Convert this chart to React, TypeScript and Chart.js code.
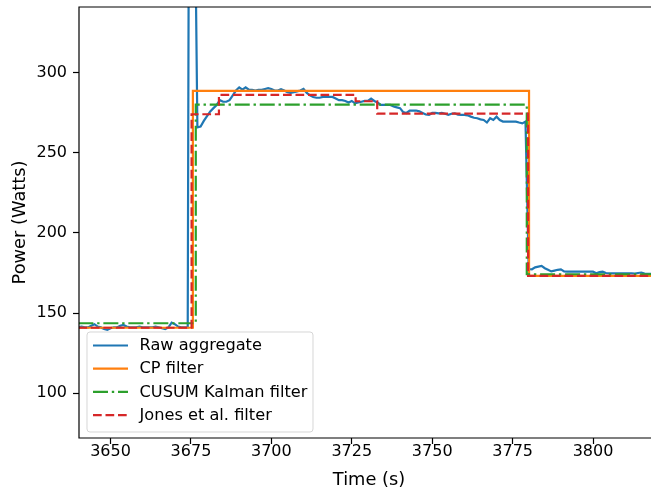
import React, { useEffect, useRef } from "react";
import { Chart, registerables } from "chart.js";

Chart.register(...registerables);

// Raw aggregate power, sampled once per second
const rawTime: number[] = [
  3640, 3641, 3642, 3643, 3644, 3645, 3646, 3647, 3648, 3649,
  3650, 3651, 3652, 3653, 3654, 3655, 3656, 3657, 3658, 3659,
  3660, 3661, 3662, 3663, 3664, 3665, 3666, 3667, 3668, 3669,
  3670, 3671, 3672, 3673, 3674, 3675, 3676, 3677, 3678, 3679,
  3680, 3681, 3682, 3683, 3684, 3685, 3686, 3687, 3688, 3689,
  3690, 3691, 3692, 3693, 3694, 3695, 3696, 3697, 3698, 3699,
  3700, 3701, 3702, 3703, 3704, 3705, 3706, 3707, 3708, 3709,
  3710, 3711, 3712, 3713, 3714, 3715, 3716, 3717, 3718, 3719,
  3720, 3721, 3722, 3723, 3724, 3725, 3726, 3727, 3728, 3729,
  3730, 3731, 3732, 3733, 3734, 3735, 3736, 3737, 3738, 3739,
  3740, 3741, 3742, 3743, 3744, 3745, 3746, 3747, 3748, 3749,
  3750, 3751, 3752, 3753, 3754, 3755, 3756, 3757, 3758, 3759,
  3760, 3761, 3762, 3763, 3764, 3765, 3766, 3767, 3768, 3769,
  3770, 3771, 3772, 3773, 3774, 3775, 3776, 3777, 3778, 3779,
  3780, 3781, 3782, 3783, 3784, 3785, 3786, 3787, 3788, 3789,
  3790, 3791, 3792, 3793, 3794, 3795, 3796, 3797, 3798, 3799,
  3800, 3801, 3802, 3803, 3804, 3805, 3806, 3807, 3808, 3809,
  3810, 3811, 3812, 3813, 3814, 3815, 3816, 3817, 3818, 3819,
];

const rawPower: number[] = [
  141, 141.5, 141, 141, 142, 143, 141.5, 141, 140, 139.5,
  140.5, 141, 141, 142, 142.5, 141.5, 141, 141, 141, 141.5,
  141, 141, 141, 141, 141.5, 141, 140.5, 140, 141, 144,
  143, 141.5, 141, 141, 141, 900, 450, 266, 266.5, 270,
  273, 276, 278, 280, 283, 282, 282, 283, 286, 289,
  291, 289.5, 291, 289.5, 289.5, 289, 289.5, 289.5, 290, 290.5,
  290, 289, 289, 289.8, 289, 288, 287.5, 288, 288.5, 289,
  290, 287.5, 286, 285, 284.5, 284.5, 285, 285, 285, 285,
  284, 283, 283, 282.5, 281.5, 282.5, 281, 281.5, 282, 282.5,
  282.5, 284, 282.5, 281.5, 280, 280, 280, 280, 279, 278.5,
  278, 275.5, 275, 276.5, 276.5, 276.5, 276, 275, 274, 273.8,
  275, 275, 274.8, 275, 274.5, 273.8, 274.5, 274.8, 274, 273.8,
  273.8, 273.5, 272.7, 272, 271.7, 271, 270.6, 269, 271.7, 270.6,
  272.7, 270.6, 269.6, 269.6, 269.6, 269.6, 269.6, 269, 268.5, 269.6,
  177.5, 177.3, 178.5, 179, 179.4, 178, 177, 176, 176.5, 177,
  177.3, 176, 175.8, 175.8, 175.8, 175.8, 175.8, 175.8, 175.8, 175.8,
  175.8, 174.8, 175.5, 175.8, 175, 174.8, 174.8, 174.8, 174.8, 174.8,
  174.8, 174.8, 174.8, 174.6, 175, 175.3, 174.6, 174.5, 174.5, 174.5,
];

// Piecewise-constant filter outputs: each level holds from its start time
const cpTime: number[] = [3640, 3675.6, 3780.1, 3821];
const cpPower: number[] = [140.8, 288.8, 173.2, 173.2];

const cusumTime: number[] = [3640, 3676.5, 3779.4, 3821];
const cusumPower: number[] = [143.6, 280.2, 174.2, 174.2];

const jonesTime: number[] = [3640, 3675.2, 3683.7, 3726.2, 3732.9, 3779.8, 3821];
const jonesPower: number[] = [140.8, 274.2, 286.3, 282.3, 274.6, 173.2, 173.2];

const xTicks: number[] = [3650, 3675, 3700, 3725, 3750, 3775, 3800];
const yTicks: number[] = [100, 150, 200, 250, 300];

const X_MIN = 3640.2;
const X_MAX = 3820.5;
const Y_MIN = 71.9;
const Y_MAX = 341.2;

const FONT = "'DejaVu Sans', sans-serif";
const TICK_SIZE = 16;
const TITLE_SIZE = 17.8;
const LEGEND_SIZE = 16.2;
const LINE_W = 2.2;

const toPoints = (xs: number[], ys: number[]) => xs.map((x, i) => ({ x, y: ys[i] }));

// Axis frame (left, top, bottom) drawn above the data lines
const framePlugin = {
  id: "frame",
  afterDatasetsDraw(chart: any) {
    const { ctx, chartArea: a } = chart;
    ctx.save();
    ctx.strokeStyle = "#000";
    ctx.lineWidth = 1.2;
    ctx.lineCap = "square";
    ctx.beginPath();
    ctx.moveTo(a.right, a.top);
    ctx.lineTo(a.left, a.top);
    ctx.lineTo(a.left, a.bottom);
    ctx.lineTo(a.right, a.bottom);
    ctx.stroke();
    ctx.restore();
  },
};

// Framed legend in the lower-left corner of the plot area
const legendPlugin = {
  id: "boxLegend",
  afterDraw(chart: any) {
    const { ctx, chartArea: a } = chart;
    const datasets = chart.data.datasets;
    const x0 = a.left + 8;
    const y1 = a.bottom - 6;
    const rowH = 23.2;
    const h = 100;
    const y0 = y1 - h;
    const w = 226;
    const r = 3;
    ctx.save();
    ctx.beginPath();
    ctx.moveTo(x0 + r, y0);
    ctx.lineTo(x0 + w - r, y0);
    ctx.arcTo(x0 + w, y0, x0 + w, y0 + r, r);
    ctx.lineTo(x0 + w, y0 + h - r);
    ctx.arcTo(x0 + w, y0 + h, x0 + w - r, y0 + h, r);
    ctx.lineTo(x0 + r, y0 + h);
    ctx.arcTo(x0, y0 + h, x0, y0 + h - r, r);
    ctx.lineTo(x0, y0 + r);
    ctx.arcTo(x0, y0, x0 + r, y0, r);
    ctx.closePath();
    ctx.fillStyle = "rgba(255,255,255,0.8)";
    ctx.fill();
    ctx.strokeStyle = "rgba(204,204,204,0.8)";
    ctx.lineWidth = 1;
    ctx.stroke();

    ctx.font = `${LEGEND_SIZE}px ${FONT}`;
    ctx.textBaseline = "middle";
    ctx.textAlign = "left";
    datasets.forEach((ds: any, i: number) => {
      const cy = y0 + 13.5 + i * rowH;
      ctx.beginPath();
      ctx.setLineDash(ds.borderDash || []);
      ctx.strokeStyle = ds.borderColor;
      ctx.lineWidth = ds.borderWidth;
      ctx.moveTo(x0 + 6, cy);
      ctx.lineTo(x0 + 41, cy);
      ctx.stroke();
      ctx.setLineDash([]);
      ctx.fillStyle = "#000";
      ctx.fillText(ds.label, x0 + 52.5, cy + 0.5);
    });
    ctx.restore();
  },
};

export default function App() {
  const canvasRef = useRef<HTMLCanvasElement | null>(null);

  useEffect(() => {
    const canvas = canvasRef.current;
    if (!canvas) return;
    const tickFont = { family: FONT, size: TICK_SIZE };
    const titleFont = { family: FONT, size: TITLE_SIZE };
    const chart = new Chart(canvas, {
      type: "line",
      data: {
        datasets: [
          {
            label: "Raw aggregate",
            data: toPoints(rawTime, rawPower),
            borderColor: "#1f77b4",
            borderWidth: LINE_W,
            pointRadius: 0,
            tension: 0,
            order: 3,
          },
          {
            label: "CP filter",
            data: toPoints(cpTime, cpPower),
            borderColor: "#ff7f0e",
            borderWidth: LINE_W,
            pointRadius: 0,
            stepped: "before",
            order: 2,
          },
          {
            label: "CUSUM Kalman filter",
            data: toPoints(cusumTime, cusumPower),
            borderColor: "#2ca02c",
            borderWidth: LINE_W,
            borderDash: [15, 3.8, 2.4, 3.8],
            pointRadius: 0,
            stepped: "before",
            order: 1,
          },
          {
            label: "Jones et al. filter",
            data: toPoints(jonesTime, jonesPower),
            borderColor: "#d62728",
            borderWidth: LINE_W,
            borderDash: [8.7, 3.8],
            pointRadius: 0,
            stepped: "before",
            order: 0,
          },
        ],
      },
      options: {
        animation: false,
        responsive: false,
        maintainAspectRatio: false,
        events: [],
        layout: { padding: { top: 7, left: 0, right: 0, bottom: 0 } },
        plugins: {
          legend: { display: false },
          tooltip: { enabled: false },
        },
        scales: {
          x: {
            type: "linear",
            min: X_MIN,
            max: X_MAX,
            afterFit: (s: any) => {
              s.height = 53;
              s.paddingLeft = 0;
              s.paddingRight = 0;
            },
            afterBuildTicks: (s: any) => {
              s.ticks = xTicks.map((v) => ({ value: v }));
            },
            ticks: {
              color: "#000",
              font: tickFont,
              padding: -2,
              maxRotation: 0,
              autoSkip: false,
              callback: (v: any) => String(v),
            },
            grid: {
              display: true,
              drawOnChartArea: false,
              drawTicks: true,
              tickLength: 6,
              tickWidth: 1.2,
              tickColor: "#000",
            },
            border: { display: false },
            title: {
              display: true,
              text: "Time (s)",
              color: "#000",
              font: titleFont,
              padding: { top: 0, bottom: 0 },
            },
          },
          y: {
            type: "linear",
            min: Y_MIN,
            max: Y_MAX,
            afterFit: (s: any) => {
              s.width = 79;
              s.paddingTop = 0;
              s.paddingBottom = 0;
            },
            afterBuildTicks: (s: any) => {
              s.ticks = yTicks.map((v) => ({ value: v }));
            },
            ticks: {
              color: "#000",
              font: tickFont,
              padding: 6,
              autoSkip: false,
              callback: (v: any) => String(v),
            },
            grid: {
              display: true,
              drawOnChartArea: false,
              drawTicks: true,
              tickLength: 6,
              tickWidth: 1.2,
              tickColor: "#000",
            },
            border: { display: false },
            title: {
              display: true,
              text: "Power (Watts)",
              color: "#000",
              font: titleFont,
              padding: { top: 9.3, bottom: 0 },
            },
          },
        },
      },
      plugins: [framePlugin, legendPlugin],
    });
    return () => chart.destroy();
  }, []);

  return (
    <div
      style={{
        position: "fixed",
        left: 0,
        top: 0,
        width: 651,
        height: 491,
        overflow: "hidden",
        background: "#fff",
      }}
    >
      <canvas ref={canvasRef} width={659} height={491} style={{ display: "block" }} />
    </div>
  );
}
